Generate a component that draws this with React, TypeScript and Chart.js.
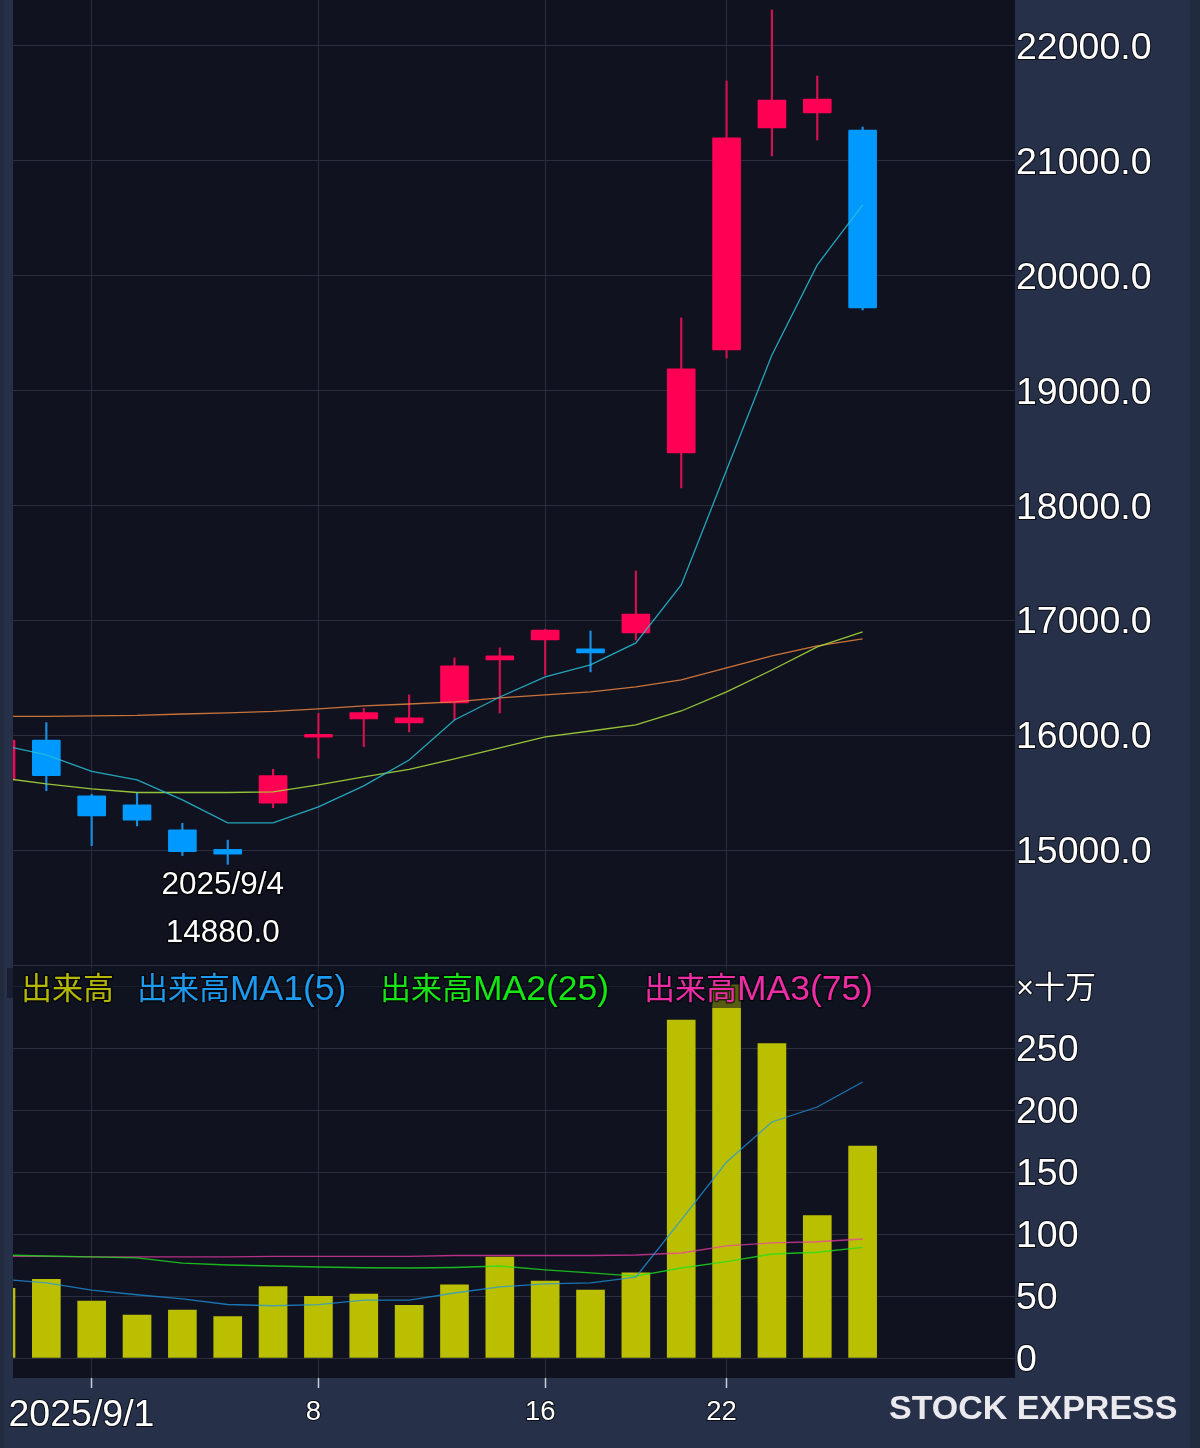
import React, { useEffect, useRef } from 'react';
import { Chart, registerables } from 'chart.js';

Chart.register(...registerables);

const dates = ['8/28', '8/29', '9/1', '9/2', '9/3', '9/4', '9/5', '9/8', '9/9', '9/10', '9/11', '9/12', '9/16', '9/17', '9/18', '9/19', '9/22', '9/24', '9/25', '9/26'];

const opens = [15614, 15962, 15475, 15397, 15179, 15011, 15411, 15986, 16145, 16110, 16284, 16658, 16832, 16754, 16893, 18459, 19355, 21287, 21417, 21269];
const closes = [15962, 15652, 15301, 15264, 14990, 14968, 15652, 16012, 16200, 16154, 16606, 16693, 16919, 16719, 17058, 19190, 21200, 21530, 21539, 19721];
const highs = [15980, 16113, 15490, 15498, 15237, 15090, 15707, 16194, 16238, 16354, 16676, 16763, 16925, 16910, 17432, 19634, 21695, 22313, 21739, 21295];
const lows = [15600, 15521, 15043, 15214, 14956, 14880, 15373, 15803, 15904, 16032, 16136, 16197, 16528, 16554, 16832, 18155, 19286, 21043, 21182, 19703];

const priceMa1 = [15919, 15832, 15688, 15614, 15440, 15240, 15240, 15379, 15562, 15788, 16136, 16336, 16510, 16615, 16806, 17311, 18311, 19312, 20095, 20617];
const priceMa2 = [15632, 15579, 15536, 15505, 15505, 15505, 15510, 15571, 15640, 15706, 15797, 15893, 15988, 16040, 16093, 16214, 16380, 16571, 16771, 16902];
const priceMa3 = [16167, 16167, 16171, 16175, 16188, 16197, 16210, 16232, 16258, 16275, 16293, 16328, 16354, 16380, 16423, 16484, 16589, 16693, 16780, 16841];

const volumes = [56.3, 63.6, 46, 34.7, 38.8, 33.4, 57.6, 49.8, 51.7, 42.6, 59, 81.6, 62.2, 54.9, 68.7, 273, 301.3, 254, 115.1, 171.2];
const volumeMa1 = [63.8, 60.6, 54.9, 51.1, 47.7, 43.2, 42.2, 43.1, 46.8, 46.8, 52.5, 57.4, 59.8, 60.6, 65.4, 111.5, 158.3, 190.6, 202.7, 222.9];
const volumeMa2 = [83.2, 82.4, 81.6, 80.8, 76.7, 75.1, 74.3, 73.5, 72.9, 72.7, 73.1, 74.3, 71.1, 68.7, 66.2, 72.7, 77.8, 84, 85.4, 89.4];
const volumeMa3 = [82, 82, 81.6, 81.6, 81.6, 81.6, 82, 82, 82, 82, 82.8, 82.8, 82.8, 82.8, 83.2, 84.8, 90.5, 92.9, 93.9, 96.1];

const priceTicks = [15000, 16000, 17000, 18000, 19000, 20000, 21000, 22000];
const volumeTicks = [0, 50, 100, 150, 200, 250, 300];
const xTicks = [2, 7, 12, 16];
const xTickLabels = ['2025/9/1', '8', '16', '22'];

const legendItems = [
  { kanji: '出来高', latin: '', color: '#b4b800', x: 21 },
  { kanji: '出来高', latin: 'MA1(5)', color: '#1c9bf0', x: 137 },
  { kanji: '出来高', latin: 'MA2(25)', color: '#16e616', x: 380 },
  { kanji: '出来高', latin: 'MA3(75)', color: '#ee2ca6', x: 644 },
];

const FONT = '"Liberation Sans", "Noto Sans CJK JP", sans-serif';
const PAGE_BG = '#273049';
const EDGE_BG = '#222a3e';
const PLOT_BG = '#10131f';
const GRID = '#2b2e3d';
const UP = '#ff0055';
const DOWN = '#0099ff';
const HALO = 'rgba(0,0,0,0.75)';

const toPoints = (values: number[]) => values.map((y, x) => ({ x, y }));

const decorations = {
  id: 'decorations',
  beforeDraw(chart: any) {
    const { ctx, chartArea: a } = chart;
    ctx.save();
    ctx.fillStyle = EDGE_BG;
    ctx.fillRect(0, 0, 4, 1448);
    ctx.fillRect(1190, 0, 10, 1448);
    ctx.fillStyle = PLOT_BG;
    ctx.fillRect(a.left, a.top, a.right - a.left, a.bottom - a.top);
    ctx.restore();
  },
  afterDraw(chart: any) {
    const { ctx, scales } = chart;
    ctx.save();

    // legend strip sits over the volume pane
    ctx.fillStyle = 'rgba(16,19,31,0.58)';
    ctx.fillRect(13, 968, 862, 40);
    ctx.fillRect(7, 968, 6, 30);

    ctx.textBaseline = 'middle';
    ctx.lineJoin = 'round';
    ctx.lineWidth = 3;
    ctx.strokeStyle = 'rgba(0,0,0,0.6)';
    legendItems.forEach((item) => {
      ctx.fillStyle = item.color;
      ctx.font = `31px ${FONT}`;
      ctx.strokeText(item.kanji, item.x, 990);
      ctx.fillText(item.kanji, item.x, 990);
      const latinX = item.x + ctx.measureText(item.kanji).width;
      ctx.font = `35.5px ${FONT}`;
      ctx.strokeText(item.latin, latinX, 990);
      ctx.fillText(item.latin, latinX, 990);
    });

    // lowest price note
    const low = Math.min(...lows);
    const lowIndex = lows.indexOf(low);
    const noteX = scales.x.getPixelForValue(lowIndex) - 5;
    const noteY = scales.y.getPixelForValue(low);
    ctx.font = `31.5px ${FONT}`;
    ctx.textAlign = 'center';
    ctx.lineWidth = 3;
    ctx.strokeStyle = HALO;
    ctx.fillStyle = '#ffffff';
    [['2025/9/4', 21], [low.toFixed(1), 69]].forEach(([text, dy]: any) => {
      ctx.strokeText(text, noteX, noteY + dy);
      ctx.fillText(text, noteX, noteY + dy);
    });

    ctx.textAlign = 'left';
    ctx.font = `bold 34px ${FONT}`;
    ctx.fillStyle = '#e9e9ee';
    ctx.fillText('STOCK EXPRESS', 889, 1410);
    ctx.restore();
  },
};

const noPadding = (scale: any) => {
  scale.paddingTop = 0;
  scale.paddingBottom = 0;
  scale.paddingLeft = 0;
  scale.paddingRight = 0;
};

const App: React.FC = () => {
  const chartRef = useRef<HTMLCanvasElement>(null);

  useEffect(() => {
    if (!chartRef.current) return;

    const candleColors = opens.map((o, i) => (closes[i] >= o ? UP : DOWN));
    const wickColors = opens.map((o, i) => (closes[i] >= o ? '#d4104e' : '#1a8fe0'));

    const lineDefaults = { type: 'line', pointRadius: 0, borderWidth: 1.3, tension: 0, order: 1 };

    const chart = new Chart(chartRef.current, {
      type: 'bar',
      data: {
        datasets: [
          {
            label: 'wick',
            data: dates.map((_, i) => ({ x: i, y: [lows[i], highs[i]] })),
            backgroundColor: wickColors,
            barThickness: 1.5,
            grouped: false,
            yAxisID: 'y',
            order: 4,
          },
          {
            label: 'body',
            data: dates.map((_, i) => ({ x: i, y: [opens[i], closes[i]] })),
            backgroundColor: candleColors,
            barThickness: 28,
            borderRadius: 1,
            borderSkipped: false,
            grouped: false,
            yAxisID: 'y',
            order: 3,
          },
          { ...lineDefaults, label: 'MA1', data: toPoints(priceMa1), borderColor: 'rgba(40,190,215,0.85)', yAxisID: 'y' },
          { ...lineDefaults, label: 'MA2', data: toPoints(priceMa2), borderColor: 'rgba(165,215,60,0.9)', yAxisID: 'y' },
          { ...lineDefaults, label: 'MA3', data: toPoints(priceMa3), borderColor: 'rgba(225,125,60,0.9)', yAxisID: 'y' },
          {
            label: '出来高',
            data: toPoints(volumes),
            backgroundColor: '#bac000',
            barThickness: 28,
            grouped: false,
            yAxisID: 'yVol',
            order: 3,
          },
          { ...lineDefaults, label: '出来高MA1(5)', data: toPoints(volumeMa1), borderColor: 'rgba(30,150,230,0.75)', yAxisID: 'yVol' },
          { ...lineDefaults, label: '出来高MA2(25)', data: toPoints(volumeMa2), borderColor: 'rgba(30,225,30,0.8)', yAxisID: 'yVol' },
          { ...lineDefaults, label: '出来高MA3(75)', data: toPoints(volumeMa3), borderColor: 'rgba(235,60,170,0.75)', yAxisID: 'yVol' },
        ] as any,
      },
      options: {
        responsive: false,
        animation: false,
        devicePixelRatio: 1,
        events: [],
        layout: { padding: { left: 13 } },
        plugins: { legend: { display: false }, tooltip: { enabled: false } },
        scales: {
          x: {
            type: 'linear',
            min: 0.265,
            max: 22.36,
            offset: false,
            afterFit: (scale: any) => { noPadding(scale); scale.height = 70; },
            afterBuildTicks: (scale: any) => { scale.ticks = xTicks.map((value) => ({ value })); },
            grid: { color: GRID, offset: false, tickColor: '#c9ccd6', tickLength: 10, lineWidth: 1, tickWidth: 1.5 },
            border: { display: false },
            ticks: {
              color: '#ffffff',
              autoSkip: false,
              maxRotation: 0,
              padding: 5,
              labelOffset: -5,
              textStrokeColor: HALO,
              textStrokeWidth: 2,
              // the long first label hangs further left than its tick
              callback: (value: any) => {
                const label = xTickLabels[xTicks.indexOf(value)];
                return value === xTicks[0] ? `${label} ` : label;
              },
              font: (ctx: any) => (ctx.index === 0
                ? { family: FONT, size: 37.5, lineHeight: 1.2 }
                : { family: FONT, size: 27.5, lineHeight: 1.4 }),
            },
          },
          y: {
            type: 'linear',
            position: 'right',
            stack: 'panes',
            stackWeight: 965,
            weight: 0,
            min: 14004,
            max: 22400,
            afterFit: (scale: any) => { noPadding(scale); scale.width = 185; },
            afterBuildTicks: (scale: any) => {
              scale.ticks = [14004, ...priceTicks].map((value) => ({ value }));
            },
            grid: { color: GRID, drawTicks: false },
            border: { display: false },
            ticks: {
              color: '#ffffff',
              autoSkip: false,
              padding: 1,
              labelOffset: 2.5,
              crossAlign: 'near',
              textStrokeColor: HALO,
              textStrokeWidth: 2,
              font: { family: FONT, size: 37.5 },
              callback: (value: any) => (priceTicks.includes(value) ? value.toFixed(1) : ''),
            },
          },
          yVol: {
            type: 'linear',
            position: 'right',
            stack: 'panes',
            stackWeight: 413,
            weight: 1,
            min: -16.15,
            max: 317.4,
            afterFit: (scale: any) => { noPadding(scale); scale.width = 185; },
            afterBuildTicks: (scale: any) => {
              scale.ticks = volumeTicks.map((value) => ({ value }));
            },
            grid: { color: GRID, drawTicks: false },
            border: { display: false },
            ticks: {
              color: '#ffffff',
              autoSkip: false,
              padding: 1,
              labelOffset: 2.5,
              crossAlign: 'near',
              textStrokeColor: HALO,
              textStrokeWidth: 2,
              font: (ctx: any) => ({ family: FONT, size: ctx.tick && ctx.tick.value === 300 ? 31 : 37.5 }),
              callback: (value: any) => (value === 300 ? '×十万' : String(value)),
            },
          },
        },
      } as any,
      plugins: [decorations],
    });

    return () => chart.destroy();
  }, []);

  return (
    <div style={{ position: 'absolute', left: 0, top: 0, width: 1200, height: 1448, background: PAGE_BG, overflow: 'hidden' }}>
      <canvas ref={chartRef} width={1200} height={1448} style={{ display: 'block' }}></canvas>
    </div>
  );
};

export default App;
